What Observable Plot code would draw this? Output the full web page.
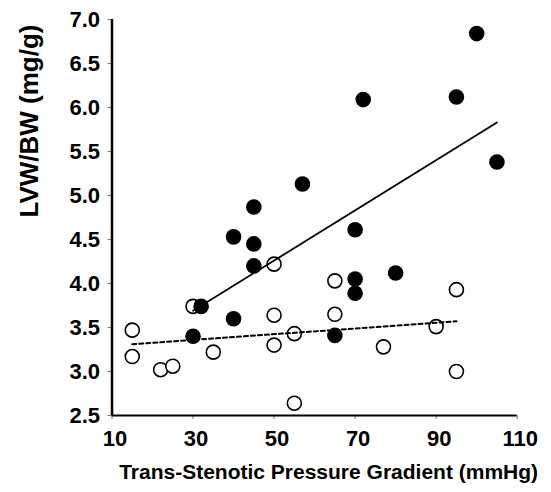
<!DOCTYPE html>
<html><head><meta charset="utf-8">
<script src="https://cdn.jsdelivr.net/npm/d3@7"></script>
<script src="https://cdn.jsdelivr.net/npm/@observablehq/plot@0.6"></script>
<style>body{margin:0;background:#fff}</style>
</head><body><div id="chart"></div>
<script>
// Filled circles
const filledX = [30, 32, 40, 40, 45, 45, 45, 57, 65, 70, 70, 70, 72, 80, 95, 100, 105];
const filledY = [3.40, 3.74, 3.60, 4.53, 4.20, 4.45, 4.87, 5.13, 3.41, 3.89, 4.05, 4.61, 6.09, 4.12, 6.12, 6.84, 5.38];
// Open circles
const openX = [15, 15, 22, 25, 30, 35, 50, 50, 50, 55, 55, 65, 65, 77, 90, 95, 95];
const openY = [3.47, 3.17, 3.02, 3.06, 3.74, 3.22, 4.22, 3.64, 3.30, 3.43, 2.64, 4.03, 3.65, 3.28, 3.51, 3.93, 3.00];
// Fitted regression lines (endpoints)
const solidFitX = [30, 105];
const solidFitY = [3.69, 5.83];
const dottedFitX = [15, 95];
const dottedFitY = [3.31, 3.57];
// Ticks and labels
const xTicks = [10, 30, 50, 70, 90, 110];
const yTicks = [2.5, 3.0, 3.5, 4.0, 4.5, 5.0, 5.5, 6.0, 6.5, 7.0];
const xLabel = "Trans-Stenotic Pressure Gradient (mmHg)";
const yLabel = "LVW/BW (mg/g)";

const filled = filledX.map((x, i) => ({x, y: filledY[i]}));
const open = openX.map((x, i) => ({x, y: openY[i]}));
const solidFit = solidFitX.map((x, i) => ({x, y: solidFitY[i]}));
const dottedFit = dottedFitX.map((x, i) => ({x, y: dottedFitY[i]}));

const font = "'Liberation Sans', Arial, Helvetica, sans-serif";

const chart = Plot.plot({
  width: 551,
  height: 492,
  marginLeft: 111.5,
  marginRight: 34.3,
  marginTop: 19,
  marginBottom: 77,
  style: {fontFamily: font, background: "#fff", color: "#000"},
  x: {domain: [10, 110]},
  y: {domain: [2.5, 7.0]},
  marks: [
    // tick marks
    Plot.axisX({ticks: xTicks, tickSize: 4, tickFormat: () => "", stroke: "#777", label: null}),
    Plot.axisY({ticks: yTicks, tickSize: 4, tickFormat: () => "", stroke: "#777", label: null}),
    // tick labels
    Plot.axisX({ticks: xTicks, tickSize: 0, tickPadding: 15, dx: 3, tickFormat: d => String(d),
      fontSize: 22, fontWeight: "bold", label: null}),
    Plot.axisY({ticks: yTicks, tickSize: 0, tickPadding: 12, tickFormat: d3.format(".1f"),
      fontSize: 22, fontWeight: "bold", label: null}),
    // axis lines
    Plot.ruleX([10], {y1: 2.5, y2: 7.0, stroke: "#000", strokeWidth: 2.5}),
    Plot.ruleY([2.5], {x1: 10, x2: 110, stroke: "#000", strokeWidth: 2}),
    // data
    Plot.dot(open, {x: "x", y: "y", r: 7, fill: "white", stroke: "black", strokeWidth: 1.6}),
    Plot.dot(filled, {x: "x", y: "y", r: 7.8, fill: "black", stroke: "none"}),
    Plot.line(solidFit, {x: "x", y: "y", stroke: "black", strokeWidth: 1.8}),
    Plot.line(dottedFit, {x: "x", y: "y", stroke: "black", strokeWidth: 2, strokeDasharray: "4,3"}),
    // axis titles
    Plot.text([yLabel], {text: d => d, frameAnchor: "left", dx: -82.5, rotate: -90,
      fontSize: 26, fontWeight: "bold", fill: "black"}),
    Plot.text([xLabel], {text: d => d, frameAnchor: "bottom", dx: 14, dy: 63,
      fontSize: 21, fontWeight: "bold", fill: "black"})
  ]
});
document.getElementById("chart").appendChild(chart);
</script>
</body></html>
